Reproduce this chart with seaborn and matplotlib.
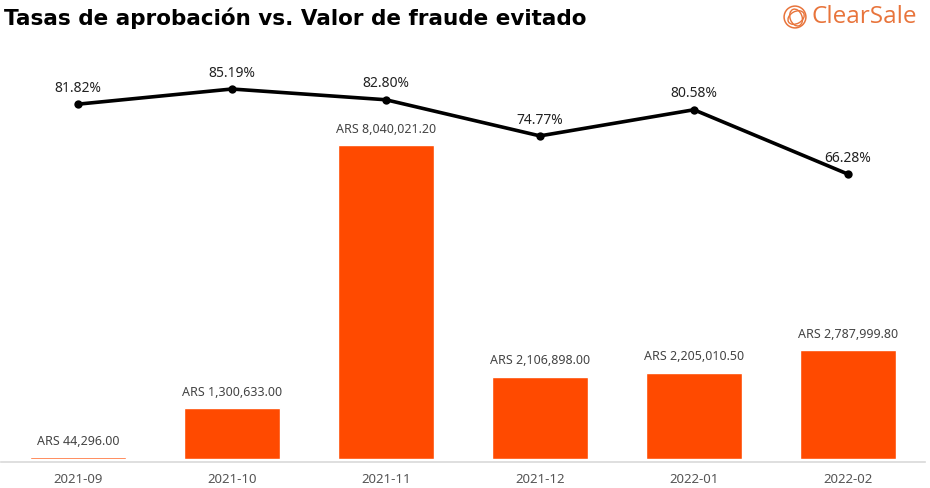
import matplotlib
matplotlib.use("Agg")
import matplotlib.pyplot as plt
import seaborn as sns
import pandas as pd
from matplotlib.patches import Ellipse

months = ["2021-09", "2021-10", "2021-11", "2021-12", "2022-01", "2022-02"]
fraud_value = [44296.00, 1300633.00, 8040021.20, 2106898.00, 2205010.50, 2787999.80]
approval_rate = [81.82, 85.19, 82.80, 74.77, 80.58, 66.28]

df = pd.DataFrame({"mes": months, "valor": fraud_value, "tasa": approval_rate})

sns.set_theme(style="white")
plt.rcParams["font.family"] = ["Noto Sans", "DejaVu Sans"]

fig = plt.figure(figsize=(9.3, 4.88), dpi=100)
ax = fig.add_axes([0.001, 0.0594, 0.9935, 0.8176])

sns.barplot(data=df, x="mes", y="valor", color="#FF4A00", width=0.625,
            saturation=1, ax=ax)
ax.set_ylim(0, 10.23e6)
ax.set_xlim(-0.5, 5.5)
for i, v in enumerate(fraud_value):
    ax.annotate(f"ARS {v:,.2f}", (i, v), xytext=(0, 7), textcoords="offset points",
                ha="center", va="bottom", fontsize=9, color="#444444")

ax.set_xlabel("")
ax.set_ylabel("")
ax.set_yticks([])
for s in ["top", "right", "left"]:
    ax.spines[s].set_visible(False)
ax.spines["bottom"].set_color("#d9d9d9")
ax.spines["bottom"].set_linewidth(1.2)
ax.spines["bottom"].set_position(("outward", 2))
ax.tick_params(axis="x", length=0, pad=8, labelsize=9.5, labelcolor="#555555")

ax2 = ax.twinx()
sns.lineplot(x=list(range(len(months))), y=approval_rate, ax=ax2, color="black",
             linewidth=2.6, marker="o", markersize=6, markeredgewidth=0)
ax2.set_ylim(2.97, 91.63)
ax2.set_xlim(-0.5, 5.5)
ax2.set_yticks([])
ax2.set_ylabel("")
for s in ["top", "right", "left", "bottom"]:
    ax2.spines[s].set_visible(False)
for i, v in enumerate(approval_rate):
    ax2.annotate(f"{v:.2f}%", (i, v), xytext=(0, 6), textcoords="offset points",
                 ha="center", va="bottom", fontsize=10, color="#222222")

fig.text(0.004, 0.985, "Tasas de aprobación vs. Valor de fraude evitado",
         fontsize=15.5, fontweight="bold", family=["DejaVu Sans"],
         color="black", ha="left", va="top")

# ClearSale logo
fig.text(0.873, 0.965, "ClearSale", fontsize=17.5, color="#E8743B",
         family=["Open Sans", "DejaVu Sans"], ha="left", va="center")
lax = fig.add_axes([783 / 930, (488 - 29) / 488, 24 / 930, 24 / 488])
lax.set_xlim(-1.1, 1.1)
lax.set_ylim(-1.1, 1.1)
lax.set_aspect("equal")
lax.axis("off")
lax.add_patch(Ellipse((0, 0), 2.0, 2.0, fill=False, edgecolor="#E8743B", linewidth=1.1))
for ang in [30, 110]:
    lax.add_patch(Ellipse((0.1, -0.05), 1.6, 1.1, angle=ang, fill=False,
                          edgecolor="#E8743B", linewidth=1.0))

fig.savefig("out.png", dpi=100)
